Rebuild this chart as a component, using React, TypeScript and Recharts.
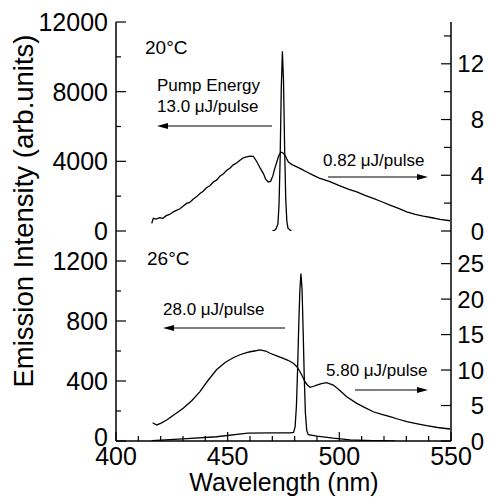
import React from 'react';
import { LineChart, Line, XAxis, YAxis } from 'recharts';

const FONT = '"Liberation Sans", Arial, Helvetica, sans-serif';

// ---------- data ----------
const topBroadWl = [416, 416.7, 418, 419.5, 421, 422.5, 424, 425.7, 427, 428.5, 430, 431.6, 433, 434.5, 436, 437.6, 439, 440.5, 442, 443.6, 445, 446.5, 448, 449.6, 451, 452.5, 454, 455.5, 457, 458.5, 460, 461.5, 463, 464.5, 466, 467, 468.2, 469.2, 470.2, 471, 472, 472.8, 473.8, 474.8, 475.7, 477.2, 479, 481, 483, 485.4, 488, 491, 495.5, 500, 504, 507.8, 511.5, 515.2, 519, 522.7, 526.5, 530.2, 534, 537.6, 541.5, 545.1, 549.6];
const topBroadVal = [440, 726, 680, 760, 726, 880, 950, 1103, 1180, 1260, 1420, 1583, 1640, 1820, 1960, 2154, 2280, 2480, 2600, 2817, 2920, 3140, 3270, 3486, 3600, 3800, 3900, 4057, 4200, 4250, 4300, 4280, 3990, 3620, 3297, 2980, 2817, 2850, 3150, 3550, 3960, 4300, 4531, 4480, 4343, 3960, 3800, 3680, 3550, 3389, 3220, 3040, 2850, 2600, 2400, 2250, 2050, 1869, 1680, 1486, 1300, 1103, 960, 857, 760, 669, 589];

const topLaserWl = [470, 471.5, 472.5, 473, 473.5, 474, 474.5, 475, 475.5, 476, 476.5, 477, 478.5];
const topLaserVal = [0, 0.1, 0.5, 1.9, 5.2, 10.2, 12.9, 10.8, 6.0, 2.3, 0.7, 0.2, 0];

const botBroadWl = [416.4, 418.2, 420, 422.7, 426, 430.1, 434, 437.6, 441, 445, 449, 452.5, 455.5, 458.5, 460, 462, 464.5, 467, 469, 472, 474.9, 477, 479.4, 481, 482.4, 483.5, 484.6, 485.8, 486.9, 488.5, 489.9, 492, 494.3, 497.3, 500, 503.3, 507.8, 511.5, 515.2, 519, 522.7, 526.5, 530.2, 535, 539.1, 544, 549.6];
const botBroadVal = [122, 107, 118, 140, 175, 218, 270, 329, 400, 475, 525, 555, 575, 589, 595, 600, 607, 600, 585, 568, 551, 538, 518, 495, 462, 430, 395, 372, 358, 365, 373, 382, 389, 373, 340, 295, 251, 222, 195, 177, 162, 145, 129, 114, 102, 90, 80];

const botLaserWl = [416, 430, 445, 459, 470, 478, 479.5, 480.2, 480.8, 481.3, 481.8, 482.3, 482.8, 483.3, 483.8, 484.3, 484.8, 485.4, 486.1, 490, 497.3, 504.8, 515, 525];
const botLaserVal = [0.05, 0.3, 0.6, 1.1, 1.15, 1.15, 1.2, 2, 5, 10, 16, 21, 23.6, 21.5, 15.5, 9, 4, 1.5, 0.9, 0.7, 0.4, 0.15, 0.05, 0];

// ---------- ticks ----------
const xTicks = [400, 410, 420, 430, 440, 450, 460, 470, 480, 490, 500, 510, 520, 530, 540, 550];
const xLabels = [400, 450, 500, 550];
const topLeftTicks = [0, 2000, 4000, 6000, 8000, 10000, 12000];
const topLeftLabels = [0, 4000, 8000, 12000];
const topRightTicks = [0, 2, 4, 6, 8, 10, 12, 14];
const topRightLabels = [0, 4, 8, 12];
const botLeftTicks = [0, 200, 400, 600, 800, 1000, 1200];
const botLeftLabels = [0, 400, 800, 1200];
const botRightTicks = [0, 5, 10, 15, 20, 25];
const botRightLabels = [0, 5, 10, 15, 20, 25];

const toPts = (wl: number[], v: number[]) => wl.map((w, i) => ({ w, v: v[i] }));
const topBroad = toPts(topBroadWl, topBroadVal);
const topLaser = toPts(topLaserWl, topLaserVal);
const botBroad = toPts(botBroadWl, botBroadVal);
const botLaser = toPts(botLaserWl, botLaserVal);

const W = 489;
const H = 497;

const makeXTick = (showLabels: boolean) => (props: any) => {
  const { x, y, payload } = props;
  const major = xLabels.includes(payload.value);
  return (
    <g>
      <line x1={x} x2={x} y1={y} y2={y - (major ? 9 : 5)} stroke="#000" strokeWidth={1.2} />
      {showLabels && major && (
        <text x={x} y={y + 24} textAnchor="middle" fontSize={25} fontFamily={FONT} fill="#000">
          {payload.value}
        </text>
      )}
    </g>
  );
};

const makeLeftTick = (labels: number[], lift: boolean) => (props: any) => {
  const { x, y, payload } = props;
  const major = labels.includes(payload.value);
  const dy = lift && payload.value === 0 ? 5 : 9;
  return (
    <g>
      <line x1={x} x2={x + (major ? 10 : 5)} y1={y} y2={y} stroke="#000" strokeWidth={1.2} />
      {major && (
        <text x={x - 8} y={y + dy} textAnchor="end" fontSize={25} fontFamily={FONT} fill="#000">
          {payload.value}
        </text>
      )}
    </g>
  );
};

const makeRightTick = (labels: number[]) => (props: any) => {
  const { x, y, payload } = props;
  const major = labels.includes(payload.value);
  return (
    <g>
      <line x1={x} x2={x - (major ? 10 : 7)} y1={y} y2={y} stroke="#000" strokeWidth={1.2} />
      {major && (
        <text x={484} y={y + 8.5} textAnchor="end" fontSize={24} fontFamily={FONT} fill="#000">
          {payload.value}
        </text>
      )}
    </g>
  );
};

const axisLine = { stroke: '#000', strokeWidth: 1.5 };

const Arrow = ({ x1, x2, y }: { x1: number; x2: number; y: number }) => {
  const dir = x2 > x1 ? 1 : -1;
  return (
    <g>
      <line x1={x1} x2={x2 - dir * 8} y1={y} y2={y} stroke="#000" strokeWidth={1.2} />
      <polygon points={`${x2},${y} ${x2 - dir * 11},${y - 3} ${x2 - dir * 11},${y + 3}`} fill="#000" />
    </g>
  );
};

const txt = { fontFamily: FONT, fill: '#000' } as const;

export default function App() {
  return (
    <div style={{ position: 'absolute', left: 0, top: 0, width: W, height: H, background: '#fff' }}>
      <div style={{ position: 'absolute', left: 0, top: 0 }}>
        <LineChart width={W} height={H} margin={{ top: 22, right: 0, bottom: 266, left: 0 }}>
          <XAxis
            xAxisId="b"
            dataKey="w"
            type="number"
            domain={[400, 550]}
            ticks={xTicks}
            interval={0}
            allowDataOverflow
            height={0}
            tickSize={0}
            tickMargin={0}
            tickLine={false}
            axisLine={axisLine}
            tick={makeXTick(false)}
          />
          <XAxis
            xAxisId="t"
            orientation="top"
            dataKey="w"
            type="number"
            domain={[400, 550]}
            height={0}
            tick={false}
            tickLine={false}
            axisLine={axisLine}
          />
          <YAxis
            yAxisId="l"
            domain={[0, 12000]}
            ticks={topLeftTicks}
            interval={0}
            width={116}
            tickSize={0}
            tickMargin={0}
            tickLine={false}
            axisLine={axisLine}
            tick={makeLeftTick(topLeftLabels, false)}
            allowDataOverflow
          />
          <YAxis
            yAxisId="r"
            orientation="right"
            domain={[0, 15]}
            ticks={topRightTicks}
            interval={0}
            width={38}
            tickSize={0}
            tickMargin={0}
            tickLine={false}
            axisLine={axisLine}
            tick={makeRightTick(topRightLabels)}
            allowDataOverflow
          />
          <Line data={topBroad} xAxisId="b" yAxisId="l" dataKey="v" type="linear" stroke="#000" strokeWidth={1.3} dot={false} isAnimationActive={false} />
          <Line data={topLaser} xAxisId="b" yAxisId="r" dataKey="v" type="linear" stroke="#000" strokeWidth={1.3} dot={false} isAnimationActive={false} />
        </LineChart>
      </div>
      <div style={{ position: 'absolute', left: 0, top: 0 }}>
        <LineChart width={W} height={H} margin={{ top: 231, right: 0, bottom: 0, left: 0 }}>
          <XAxis
            dataKey="w"
            type="number"
            domain={[400, 550]}
            ticks={xTicks}
            interval={0}
            allowDataOverflow
            height={56}
            tickSize={0}
            tickMargin={0}
            tickLine={false}
            axisLine={axisLine}
            tick={makeXTick(true)}
          />
          <YAxis
            yAxisId="l"
            domain={[0, 1400]}
            ticks={botLeftTicks}
            interval={0}
            width={116}
            tickSize={0}
            tickMargin={0}
            tickLine={false}
            axisLine={axisLine}
            tick={makeLeftTick(botLeftLabels, true)}
            allowDataOverflow
          />
          <YAxis
            yAxisId="r"
            orientation="right"
            domain={[0, 29.6]}
            ticks={botRightTicks}
            interval={0}
            width={38}
            tickSize={0}
            tickMargin={0}
            tickLine={false}
            axisLine={axisLine}
            tick={makeRightTick(botRightLabels)}
            allowDataOverflow
          />
          <Line data={botBroad} yAxisId="l" dataKey="v" type="linear" stroke="#000" strokeWidth={1.3} dot={false} isAnimationActive={false} />
          <Line data={botLaser} yAxisId="r" dataKey="v" type="linear" stroke="#000" strokeWidth={1.3} dot={false} isAnimationActive={false} />
        </LineChart>
      </div>
      <svg width={W} height={H} style={{ position: 'absolute', left: 0, top: 0, pointerEvents: 'none' }}>
        <text x={33} y={211} transform="rotate(-90, 33, 211)" textAnchor="middle" fontSize={27.5} {...txt}>
          Emission Intensity (arb.units)
        </text>
        <text x={284} y={491} textAnchor="middle" fontSize={25} {...txt}>
          Wavelength (nm)
        </text>
        <text x={145} y={54} fontSize={19} {...txt}>20°C</text>
        <text x={157} y={91} fontSize={17} {...txt}>Pump Energy</text>
        <text x={157} y={112} fontSize={17} {...txt}>13.0 μJ/pulse</text>
        <Arrow x1={272} x2={157} y={126} />
        <text x={323} y={166} fontSize={17} {...txt}>0.82 μJ/pulse</text>
        <Arrow x1={328} x2={428} y={177} />
        <text x={147} y={265} fontSize={19} {...txt}>26°C</text>
        <text x={163} y={315} fontSize={17} {...txt}>28.0 μJ/pulse</text>
        <Arrow x1={285} x2={163} y={328} />
        <text x={326} y={376} fontSize={17} {...txt}>5.80 μJ/pulse</text>
        <Arrow x1={355} x2={428} y={390} />
      </svg>
    </div>
  );
}
